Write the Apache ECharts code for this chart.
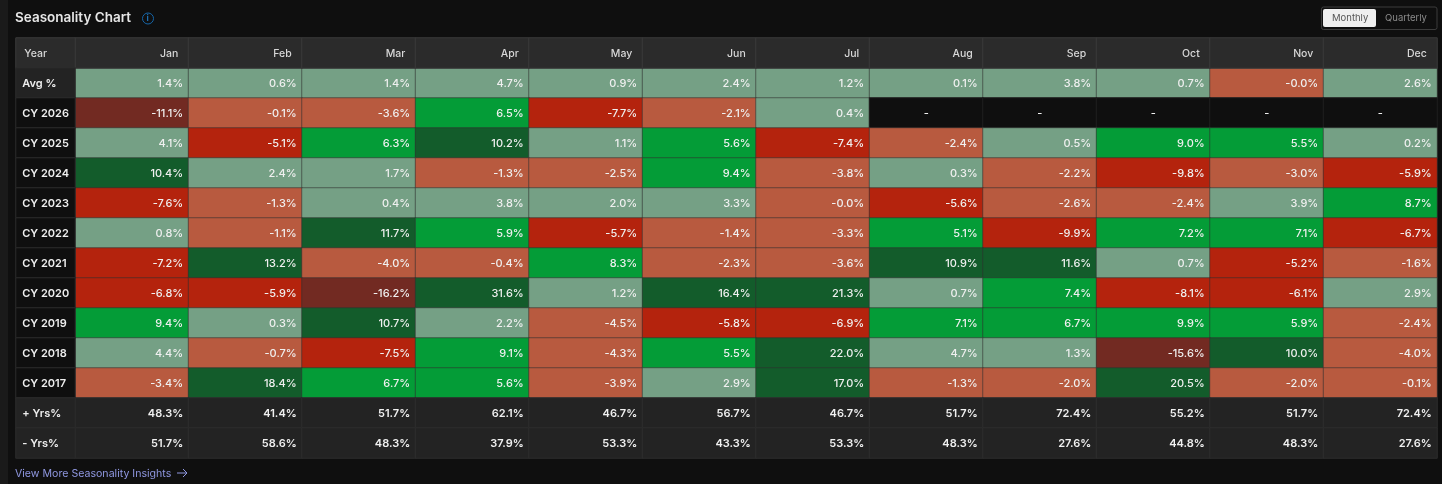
<!DOCTYPE html>
<html><head><meta charset="utf-8">
<style>html,body{margin:0;padding:0;background:#0f0f0f}#c{width:1442px;height:484px}</style>
<script src="https://cdn.jsdelivr.net/npm/echarts@6/dist/echarts.min.js"></script></head>
<body><div id="c"></div>
<script>
const months = ['Jan','Feb','Mar','Apr','May','Jun','Jul','Aug','Sep','Oct','Nov','Dec'];
const rowLabels = ['Year','Avg %','CY 2026','CY 2025','CY 2024','CY 2023','CY 2022','CY 2021','CY 2020','CY 2019','CY 2018','CY 2017','+ Yrs%','- Yrs%'];
const avg = [1.4,0.6,1.4,4.7,0.9,2.4,1.2,0.1,3.8,0.7,-0.04,2.6];
const cy2026 = [-11.1,-0.1,-3.6,6.5,-7.7,-2.1,0.4,null,null,null,null,null];
const cy2025 = [4.1,-5.1,6.3,10.2,1.1,5.6,-7.4,-2.4,0.5,9.0,5.5,0.2];
const cy2024 = [10.4,2.4,1.7,-1.3,-2.5,9.4,-3.8,0.3,-2.2,-9.8,-3.0,-5.9];
const cy2023 = [-7.6,-1.3,0.4,3.8,2.0,3.3,-0.04,-5.6,-2.6,-2.4,3.9,8.7];
const cy2022 = [0.8,-1.1,11.7,5.9,-5.7,-1.4,-3.3,5.1,-9.9,7.2,7.1,-6.7];
const cy2021 = [-7.2,13.2,-4.0,-0.4,8.3,-2.3,-3.6,10.9,11.6,0.7,-5.2,-1.6];
const cy2020 = [-6.8,-5.9,-16.2,31.6,1.2,16.4,21.3,0.7,7.4,-8.1,-6.1,2.9];
const cy2019 = [9.4,0.3,10.7,2.2,-4.5,-5.8,-6.9,7.1,6.7,9.9,5.9,-2.4];
const cy2018 = [4.4,-0.7,-7.5,9.1,-4.3,5.5,22.0,4.7,1.3,-15.6,10.0,-4.0];
const cy2017 = [-3.4,18.4,6.7,5.6,-3.9,2.9,17.0,-1.3,-2.0,20.5,-2.0,-0.1];
const plusYrs = [48.3,41.4,51.7,62.1,46.7,56.7,46.7,51.7,72.4,55.2,51.7,72.4];
const minusYrs = [51.7,58.6,48.3,37.9,53.3,43.3,53.3,48.3,27.6,44.8,48.3,27.6];
const heatRows = [avg,cy2026,cy2025,cy2024,cy2023,cy2022,cy2021,cy2020,cy2019,cy2018,cy2017];
const statRows = [plusYrs,minusYrs];

const FONT = 'Inter, "Noto Sans", sans-serif';
function shade(v){
  if(v<=-10) return '#722a22';
  if(v<=-5)  return '#b4230d';
  if(v<0)    return '#b85a3f';
  if(v<5)    return '#75a085';
  if(v<10)   return '#049c37';
  return '#135c2b';
}
const body = [];
heatRows.forEach((row,r)=>row.forEach((v,c)=>{
  const y = rowLabels[r+1];
  if(v===null){
    body.push({value:[c,y,0],itemStyle:{color:'#0f0f0f',borderColor:'#1f1f1f',borderWidth:1},
      label:{formatter:'-',position:'inside'}});
  }else{
    body.push({value:[c,y,v],itemStyle:{color:shade(v),borderColor:'rgba(50,50,50,0.55)',borderWidth:1},
      label:{formatter:v.toFixed(1)+'%'}});
  }
}));
statRows.forEach((row,r)=>row.forEach((v,c)=>{
  body.push({value:[c,rowLabels[r+12],v],itemStyle:{color:'#232323',borderColor:'#2e2e2e',borderWidth:1},
    label:{formatter:v.toFixed(1)+'%',fontWeight:600}});
}));
const header = months.map((m,c)=>({value:[c,'Year',0],itemStyle:{color:'#2b2b2b',borderColor:'#3a3a3a',borderWidth:1},
  label:{formatter:m,fontWeight:500,color:'#d8d8d8',fontSize:10.5,distance:11}}));
const first = rowLabels.map(n=>{
  const isCy = n.startsWith('CY');
  return {value:[0,n,0],itemStyle:{color:n==='Year'?'#2b2b2b':isCy?'#0f0f0f':'#232323',borderColor:n==='Year'?'#3a3a3a':'#2c2c2c',borderWidth:1},
    label:{formatter:n,fontWeight:n==='Year'?500:600,fontSize:n==='Year'?10.5:11,
      color:n==='Year'?'#d8d8d8':'#eeeeee',distance:n==='Year'?9:7}};
});

const chart = echarts.init(document.getElementById('c'),null,{renderer:'canvas'});
chart.setOption({
  backgroundColor:'#0f0f0f',animation:false,
  grid:[
    {left:75,right:5,top:38,bottom:26},
    {left:16,width:59,top:38,bottom:26}
  ],
  xAxis:[
    {type:'category',data:months,gridIndex:0,show:false},
    {type:'category',data:['Year'],gridIndex:1,show:false}
  ],
  yAxis:[
    {type:'category',data:rowLabels,inverse:true,gridIndex:0,show:false},
    {type:'category',data:rowLabels,inverse:true,gridIndex:1,show:false}
  ],
  series:[
    {type:'heatmap',xAxisIndex:0,yAxisIndex:0,data:body.concat(header),
      label:{show:true,position:'insideRight',distance:6,offset:[0,1],color:'#f0f0f0',fontFamily:FONT,fontSize:11,fontWeight:500}},
    {type:'heatmap',xAxisIndex:1,yAxisIndex:1,data:first,
      label:{show:true,position:'insideLeft',offset:[0,1],fontFamily:FONT,fontSize:11}}
  ],
  graphic:[
    {type:'rect',left:0,top:0,shape:{width:8,height:484},style:{fill:'#1a1a1a'},silent:true},
    {type:'text',left:15,top:11,style:{text:'Seasonality Chart',fill:'#e6e6e6',font:'600 13.5px '+FONT}},
    {type:'circle',left:142,top:12.5,shape:{r:5.5},style:{fill:'transparent',stroke:'#1565a8',lineWidth:1}},
    {type:'text',left:146.5,top:13.5,style:{text:'i',fill:'#1e78c0',font:'600 9px '+FONT}},
    {type:'rect',left:1321,top:6.5,shape:{width:115.5,height:22.5,r:2},style:{fill:'#0f0f0f',stroke:'#3c3c3c',lineWidth:1}},
    {type:'rect',left:1323,top:9,shape:{width:53,height:18,r:2},style:{fill:'#efefef'}},
    {type:'text',left:1332,top:13,style:{text:'Monthly',fill:'#555555',font:'400 9.5px '+FONT}},
    {type:'text',left:1385,top:13,style:{text:'Quarterly',fill:'#8c8c8c',font:'400 9.5px '+FONT}},
    {type:'text',left:15,top:468,style:{text:'View More Seasonality Insights',fill:'#8f97e0',font:'400 10.6px '+FONT}},
    {type:'polyline',x:177,y:468.5,shape:{points:[[0,4.5],[10,4.5],[6,0.5],[10,4.5],[6,8.5]]},style:{stroke:'#8f97e0',lineWidth:1,fill:'none'}}
  ]
});
</script></body></html>
